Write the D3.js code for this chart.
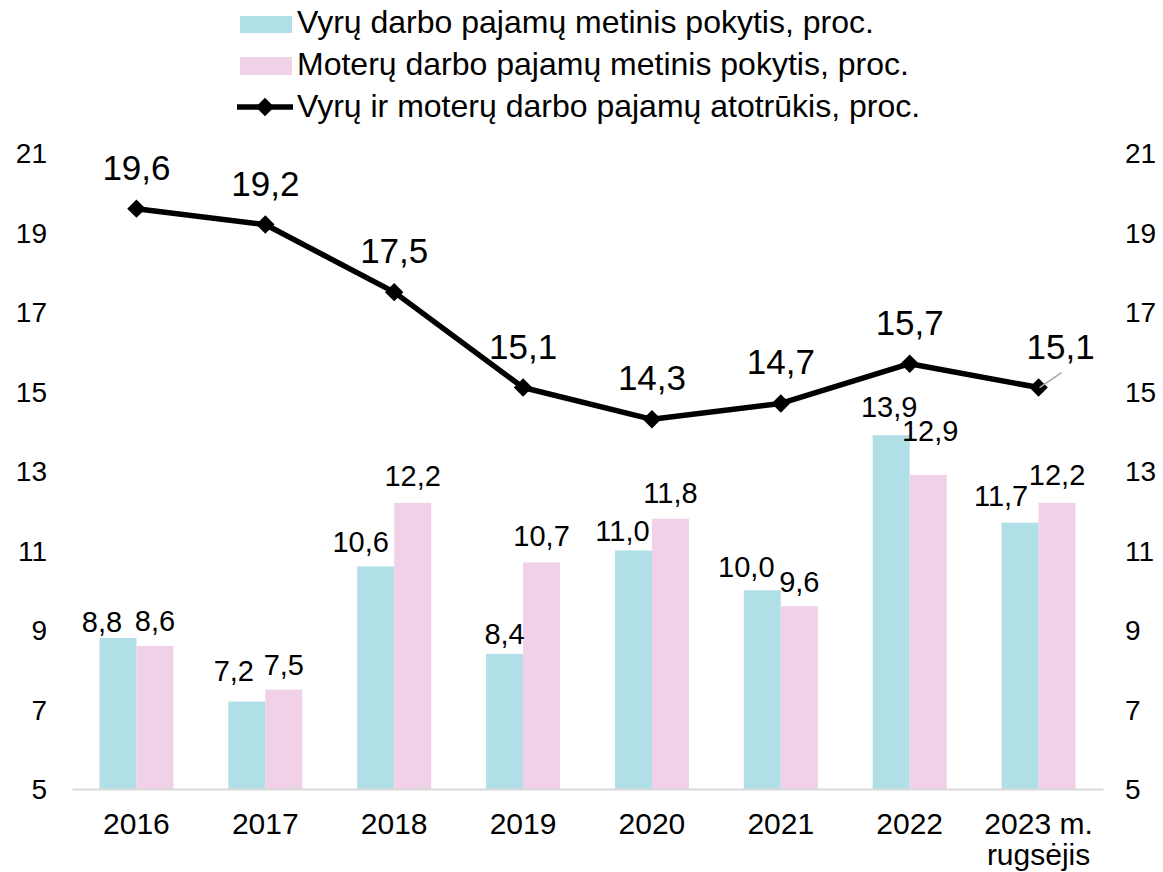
<!DOCTYPE html>
<html>
<head>
<meta charset="utf-8">
<script src="https://cdn.jsdelivr.net/npm/d3@7"></script>
<style>
  html, body { margin: 0; padding: 0; background: #fff; }
  svg { display: block; font-family: "Liberation Sans", Arial, sans-serif; }
</style>
</head>
<body>
<svg id="chart" width="1163" height="872"></svg>
<script>
// ---- data ----
const categories = [["2016"], ["2017"], ["2018"], ["2019"], ["2020"], ["2021"], ["2022"], ["2023 m.", "rugsėjis"]];
const menChange = [8.8, 7.2, 10.6, 8.4, 11.0, 10.0, 13.9, 11.7];
const womenChange = [8.6, 7.5, 12.2, 10.7, 11.8, 9.6, 12.9, 12.2];
const payGap = [19.6, 19.2, 17.5, 15.1, 14.3, 14.7, 15.7, 15.1];
const axisTicks = [5, 7, 9, 11, 13, 15, 17, 19, 21];
const seriesNames = [
  "Vyrų darbo pajamų metinis pokytis, proc.",
  "Moterų darbo pajamų metinis pokytis, proc.",
  "Vyrų ir moterų darbo pajamų atotrūkis, proc."
];

// ---- layout / style ----
const colMen = "#b0dfe8", colWomen = "#f1d1e8";
const fmt = v => d3.format(".1f")(v).replace(".", ",");
// label nudges (layout only)
const menLabelDx = [-16, -13, -15, 0, -11, -16, -2, -19];
const menLabelGap = [6, 21, 14, 10, 10, 13, 18, 17];
const womenLabelGap = [15, 15, 17, 16, 16, 14, 34, 18];
const womenLabelDx = [0, 0, 0, 0, 0, 0, 2, 0];

const svg = d3.select("#chart");
const idx = d3.range(categories.length);
const x = d3.scaleBand().domain(idx).range([72, 1103]).paddingInner(0.426).paddingOuter(0.213);
const x1 = d3.scaleBand().domain(["m", "w"]).range([0, x.bandwidth()]);
const y = d3.scaleLinear().domain([5, 21]).range([789, 153]);

// bars
const g = svg.append("g");
g.selectAll("rect.m").data(menChange).join("rect")
  .attr("x", (d, i) => x(i) + x1("m")).attr("width", x1.bandwidth())
  .attr("y", d => y(d)).attr("height", d => y(5) - y(d)).attr("fill", colMen);
g.selectAll("rect.w").data(womenChange).join("rect")
  .attr("x", (d, i) => x(i) + x1("w")).attr("width", x1.bandwidth())
  .attr("y", d => y(d)).attr("height", d => y(5) - y(d)).attr("fill", colWomen);

// axis line
const xAxis = d3.axisBottom(x).tickSize(0).tickFormat(() => "");
const ax = svg.append("g").attr("transform", `translate(0,${y(5)})`).call(xAxis);
ax.select(".domain").attr("stroke", "#d9d9d9").attr("stroke-width", 2);

// category labels
svg.append("g").selectAll("text").data(categories).join("text")
  .attr("text-anchor", "middle").attr("font-size", 30).attr("fill", "#000")
  .attr("x", (d, i) => x(i) + x.bandwidth() / 2).attr("y", 834)
  .selectAll("tspan").data(d => d).join("tspan")
  .attr("x", function () { return d3.select(this.parentNode).attr("x"); })
  .attr("dy", (d, j) => j === 0 ? 0 : 31).text(d => d);

// y axes
const yl = d3.axisLeft(y).tickValues(axisTicks).tickSize(0).tickPadding(0);
const gl = svg.append("g").attr("transform", "translate(47,0)").call(yl);
gl.select(".domain").remove();
gl.selectAll("text").attr("font-size", 28).attr("fill", "#000").attr("font-family", "Liberation Sans, Arial, sans-serif").attr("dy", "0.35em");
const yr = d3.axisRight(y).tickValues(axisTicks).tickSize(0).tickPadding(0);
const gr = svg.append("g").attr("transform", "translate(1125,0)").call(yr);
gr.select(".domain").remove();
gr.selectAll("text").attr("font-size", 28).attr("fill", "#000").attr("font-family", "Liberation Sans, Arial, sans-serif").attr("dy", "0.35em");

// bar labels
svg.append("g").selectAll("text").data(menChange).join("text")
  .attr("text-anchor", "middle").attr("font-size", 29)
  .attr("x", (d, i) => x(i) + x1("m") + x1.bandwidth() / 2 + menLabelDx[i])
  .attr("y", (d, i) => y(d) - menLabelGap[i]).text(fmt);
svg.append("g").selectAll("text").data(womenChange).join("text")
  .attr("text-anchor", "middle").attr("font-size", 29)
  .attr("x", (d, i) => x(i) + x1("w") + x1.bandwidth() / 2 + womenLabelDx[i])
  .attr("y", (d, i) => y(d) - womenLabelGap[i]).text(fmt);

// line
const cx = i => x(i) + x.bandwidth() / 2;
const line = d3.line().x((d, i) => cx(i)).y(d => y(d));
svg.append("path").datum(payGap).attr("d", line).attr("fill", "none")
  .attr("stroke", "#000").attr("stroke-width", 5.5).attr("stroke-linejoin", "round");
const diamond = d3.symbol(d3.symbolSquare, 170);
svg.append("g").selectAll("path").data(payGap).join("path")
  .attr("d", diamond).attr("fill", "#000")
  .attr("transform", (d, i) => `translate(${cx(i)},${y(d)}) rotate(45)`);

// line labels
const last = payGap.length - 1;
svg.append("line")
  .attr("x1", cx(last) + 1).attr("y1", y(payGap[last]))
  .attr("x2", cx(last) + 23).attr("y2", y(payGap[last]) - 15)
  .attr("stroke", "#a6a6a6").attr("stroke-width", 1.5);
svg.append("g").selectAll("text").data(payGap).join("text")
  .attr("text-anchor", "middle").attr("font-size", 35)
  .attr("x", (d, i) => cx(i) + (i === last ? 22 : 0))
  .attr("y", d => y(d) - 29).text(fmt);

// legend
const lg = svg.append("g");
const lx = 240, rows = [33, 75, 117];
lg.append("rect").attr("x", lx).attr("y", rows[0] - 17).attr("width", 52).attr("height", 17).attr("fill", colMen);
lg.append("rect").attr("x", lx).attr("y", rows[1] - 18).attr("width", 52).attr("height", 18).attr("fill", colWomen);
lg.append("line").attr("x1", lx - 3).attr("x2", lx + 53).attr("y1", rows[2] - 10).attr("y2", rows[2] - 10)
  .attr("stroke", "#000").attr("stroke-width", 5.5);
lg.append("path").attr("d", diamond).attr("fill", "#000")
  .attr("transform", `translate(${lx + 25},${rows[2] - 10}) rotate(45)`);
lg.selectAll("text").data(seriesNames).join("text")
  .attr("x", 297).attr("y", (d, i) => rows[i]).attr("font-size", 32).text(d => d);
</script>
</body>
</html>
